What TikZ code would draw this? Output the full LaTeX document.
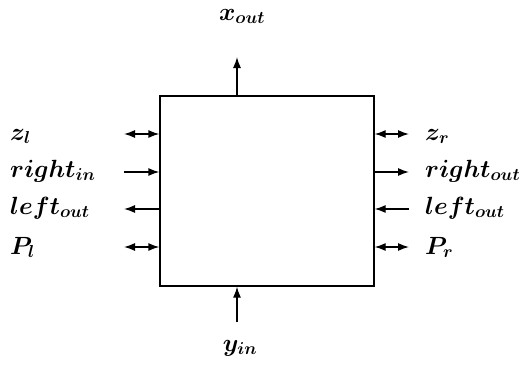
\documentclass[tikz,border=0pt]{standalone}
\usepackage{amsmath}
\usetikzlibrary{arrows.meta}
\begin{document}
\begin{tikzpicture}[x=1pt,y=-1pt]
\tikzset{sig/.style={line width=1.3pt,-{Latex[length=11pt,width=8pt]}},
         both/.style={line width=1.3pt,{Latex[length=11pt,width=8pt]}-{Latex[length=11pt,width=8pt]}},
         lab/.style={font=\fontsize{25}{29}\selectfont\boldmath,inner sep=0pt}}
\useasboundingbox (0,0) rectangle (522,372);

% the block
\node[draw,line width=1.3pt,minimum width=214pt,minimum height=190pt,inner sep=0pt] (blk) at (267,191) {};

% free ends of the side signals, rows 1..4 from top to bottom
\foreach \y/\n in {134/1, 172/2, 209/3, 247/4}
{
    \coordinate (l\n) at (124,\y);
    \coordinate (r\n) at (409,\y);
}
\coordinate (top) at (237,57);
\coordinate (bot) at (237,322);

% left side
\draw[both] (l1) -- (blk.west |- l1);
\draw[sig] (l2) -- (blk.west |- l2);
\draw[sig] (blk.west |- l3) -- (l3);
\draw[both] (l4) -- (blk.west |- l4);
% right side
\draw[both] (blk.east |- r1) -- (r1);
\draw[sig] (blk.east |- r2) -- (r2);
\draw[sig] (r3) -- (blk.east |- r3);
\draw[both] (blk.east |- r4) -- (r4);
% top and bottom
\draw[sig] (blk.north -| top) -- (top);
\draw[sig] (bot) -- (blk.south -| bot);

% labels
\node[lab,anchor=base west] (zl) at (10,140) {$z_l$};
\node[lab,anchor=base west] (rin) at (10,177) {$right_{in}$};
\node[lab,anchor=base west] (lout) at (10,214) {$left_{out}$};
\node[lab,anchor=base west] (pl) at (10,254) {$P_l$};
\node[lab,anchor=base west] (zr) at (425,140) {$z_r$};
\node[lab,anchor=base west] (rout) at (425,177) {$right_{out}$};
\node[lab,anchor=base west] (lout2) at (425,214) {$left_{out}$};
\node[lab,anchor=base west] (pr) at (425,254) {$P_r$};
\node[lab,anchor=base] (xo) at (242,20) {$x_{out}$};
\node[lab,anchor=base] (yi) at (240,351) {$y_{in}$};
\end{tikzpicture}
\end{document}
